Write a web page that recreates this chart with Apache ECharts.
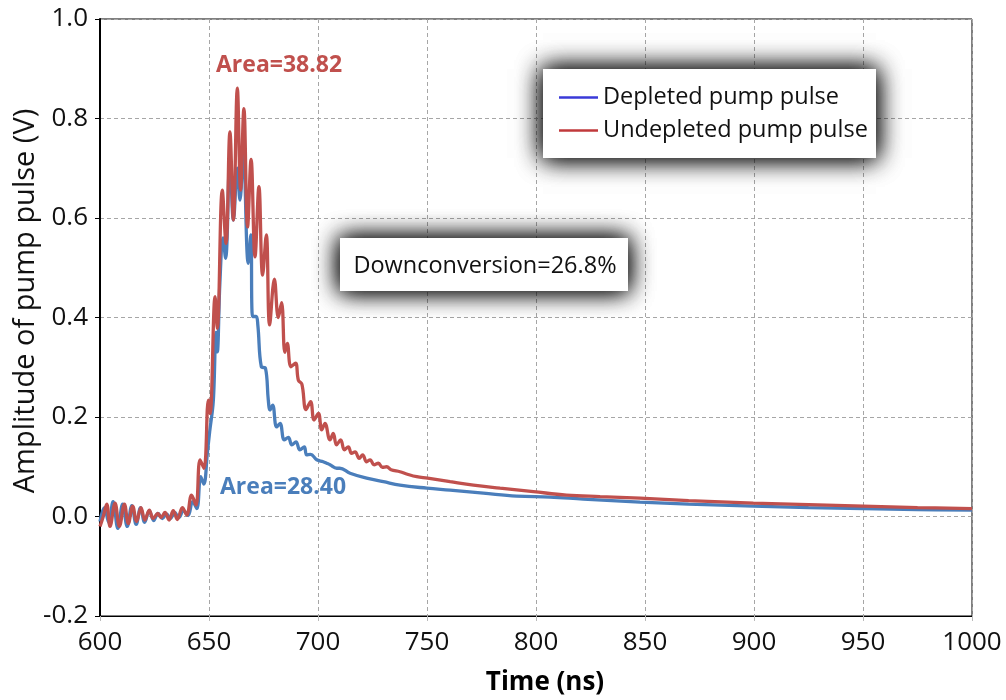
<!DOCTYPE html>
<html>
<head>
<meta charset="utf-8">
<script src="https://cdn.jsdelivr.net/npm/echarts@6/dist/echarts.min.js"></script>
<style>
  html, body { margin: 0; padding: 0; background: #ffffff; }
  #chart { width: 1006px; height: 700px; }
</style>
</head>
<body>
<div id="chart"></div>
<script>
// Pump pulse traces: [time (ns), amplitude (V)]
const depleted = [
  [600, -0.010], [602, 0.018], [604, -0.012], [606, 0.030], [608.2, -0.024],
  [610.4, 0.025], [612.5, -0.020], [614.6, 0.022], [616.6, -0.016], [618.6, 0.018],
  [620.5, -0.012], [622.6, 0.012], [624.6, -0.008], [626.6, 0.006], [628.6, -0.004],
  [630.5, 0.005], [632.3, -0.004], [634.2, 0.008], [636.2, -0.002], [638.3, 0.012],
  [640.4, 0.002], [642.5, 0.030], [644.4, 0.016], [646.2, 0.080], [647.6, 0.065],
  [649.3, 0.130], [650.3, 0.170], [652.0, 0.234], [653.2, 0.370], [653.8, 0.331],
  [655.0, 0.470], [656.4, 0.560], [657.6, 0.519], [659.6, 0.717], [661.2, 0.596],
  [663.0, 0.700], [664.2, 0.636], [665.7, 0.733], [668.0, 0.509], [669.2, 0.566],
  [670.0, 0.402], [671.6, 0.402], [672.4, 0.385], [674.0, 0.301], [675.9, 0.298],
  [677.2, 0.234], [678.0, 0.214], [679.2, 0.224], [681.0, 0.180], [682.6, 0.187],
  [684.5, 0.154], [686.4, 0.159], [688.0, 0.144], [689.9, 0.150], [691.7, 0.134],
  [693.7, 0.140], [694.8, 0.124], [696.6, 0.125], [699.4, 0.114], [702.4, 0.110],
  [704.0, 0.107], [705.5, 0.104], [708.6, 0.097], [710.0, 0.097], [714.7, 0.087],
  [722.3, 0.077], [730.0, 0.070], [737.6, 0.063], [749.9, 0.057], [760.6, 0.053],
  [775.8, 0.047], [791.1, 0.041], [806.4, 0.039], [821.7, 0.035], [847.7, 0.029],
  [870, 0.025], [899.7, 0.021], [925, 0.018], [950.1, 0.016], [975, 0.014],
  [1000, 0.013]
];

const undepleted = [
  [600, -0.020], [601.5, 0.000], [603.1, 0.025], [604.6, -0.020], [606.9, 0.027],
  [608.9, -0.020], [611.2, 0.025], [613.0, -0.014], [615.0, 0.021], [616.8, -0.010],
  [618.8, 0.018], [620.6, -0.007], [622.6, 0.013], [624.4, -0.004], [626.5, 0.006],
  [628.0, -0.002], [629.8, 0.008], [631.7, -0.007], [633.6, 0.012], [635.5, -0.006],
  [637.8, 0.018], [639.8, 0.003], [642.0, 0.043], [644.0, 0.023], [645.9, 0.114],
  [647.7, 0.097], [649.7, 0.234], [650.5, 0.207], [652.8, 0.442], [653.8, 0.378],
  [656.1, 0.656], [657.8, 0.549], [659.6, 0.773], [661.2, 0.596], [663.0, 0.861],
  [664.5, 0.656], [666.0, 0.820], [667.7, 0.582], [669.3, 0.718], [671.1, 0.522],
  [672.9, 0.663], [674.6, 0.485], [676.3, 0.566], [677.8, 0.385], [680.0, 0.477],
  [681.8, 0.400], [683.3, 0.430], [684.8, 0.330], [685.9, 0.348], [687.6, 0.301],
  [689.7, 0.308], [691.0, 0.274], [692.6, 0.266], [694.5, 0.215], [696.6, 0.231],
  [698.2, 0.194], [700.2, 0.207], [701.7, 0.174], [703.2, 0.187], [705.5, 0.154],
  [707.0, 0.167], [708.5, 0.144], [710.4, 0.154], [712.1, 0.134], [713.9, 0.140],
  [715.4, 0.127], [717.0, 0.130], [718.9, 0.117], [720.5, 0.124], [722.3, 0.110],
  [723.9, 0.114], [725.7, 0.104], [727.7, 0.107], [729.5, 0.099], [731.5, 0.100],
  [733.5, 0.094], [737.6, 0.090], [741.0, 0.085], [745.3, 0.080], [750.3, 0.077],
  [760.6, 0.070], [771.3, 0.063], [783.5, 0.057], [798.8, 0.050], [814.0, 0.043],
  [829.4, 0.040], [847.7, 0.037], [870, 0.032], [899.7, 0.027], [925, 0.024],
  [950.1, 0.021], [975, 0.018], [1000, 0.016]
];

const seriesNames = ['Depleted pump pulse', 'Undepleted pump pulse'];
const areaLabels = ['Area=28.40', 'Area=38.82'];
const conversionLabel = 'Downconversion=26.8%';
const xTitle = 'Time (ns)';
const yTitle = 'Amplitude of pump pulse (V)';

const FONT = '"Open Sans", Lato, sans-serif';
const BLUE = '#4a7ebb';
const RED = '#c0504d';

const chart = echarts.init(document.getElementById('chart'), null, { renderer: 'canvas' });

// white panel with a heavy, even dark halo (drawn twice to deepen it)
function panel(x, y, w, h) {
  const style = { fill: '#ffffff', shadowBlur: 24, shadowColor: 'rgba(0,0,0,0.9)' };
  return [
    { type: 'rect', z: 3, shape: { x, y, width: w, height: h }, style },
    { type: 'rect', z: 3, shape: { x, y, width: w, height: h }, style }
  ];
}

chart.setOption({
  backgroundColor: '#ffffff',
  animation: false,
  grid: {
    left: 100, right: 34, top: 19, bottom: 84,
    show: true, borderColor: '#000000', borderWidth: 1
  },
  xAxis: {
    type: 'value', min: 600, max: 1000, interval: 50,
    axisLine: { show: true, onZero: false, lineStyle: { color: '#000000', width: 1 } },
    axisTick: { show: true, length: 5, lineStyle: { color: '#bbbbbb' } },
    axisLabel: {
      margin: 14, color: '#111111', fontSize: 26, fontFamily: FONT,
      formatter: v => String(v)
    },
    splitLine: { show: true, lineStyle: { color: '#a6a6a6', type: [4, 3], width: 1 } }
  },
  yAxis: {
    type: 'value', min: -0.2, max: 1.0, interval: 0.2,
    axisLine: { show: true, onZero: false, lineStyle: { color: '#000000', width: 2 } },
    axisTick: { show: true, length: 5, lineStyle: { color: '#000000' } },
    axisLabel: {
      margin: 12, color: '#111111', fontSize: 26, fontFamily: FONT,
      formatter: v => v.toFixed(1)
    },
    splitLine: { show: true, lineStyle: { color: '#a6a6a6', type: [4, 3], width: 1 } }
  },
  legend: {
    left: 559, top: 81, orient: 'vertical', padding: 0, itemGap: 0,
    icon: 'rect', itemWidth: 39, itemHeight: 2.5,
    textStyle: { fontSize: 23.5, fontFamily: FONT, color: '#111111', lineHeight: 33 },
    data: [
      { name: seriesNames[0], itemStyle: { color: '#3a3ad8' } },
      { name: seriesNames[1], itemStyle: { color: '#c0393b' } }
    ]
  },
  series: [
    {
      name: seriesNames[0], type: 'line', data: depleted, symbol: 'none', smooth: 0.4,
      lineStyle: { color: BLUE, width: 3.3 }, itemStyle: { color: BLUE }, z: 2
    },
    {
      name: seriesNames[1], type: 'line', data: undepleted, symbol: 'none', smooth: 0.4,
      lineStyle: { color: RED, width: 3.3 }, itemStyle: { color: RED }, z: 3
    }
  ],
  graphic: [
    ...panel(543, 69, 333, 89),
    ...panel(340, 238, 288, 53),
    {
      type: 'text', z: 5, x: 485, y: 266,
      style: {
        text: conversionLabel, fill: '#111111', font: '23.5px ' + FONT,
        align: 'center', verticalAlign: 'middle'
      }
    },
    {
      type: 'text', z: 5, x: 216, y: 65,
      style: {
        text: areaLabels[1], fill: RED, font: 'bold 23px ' + FONT,
        align: 'left', verticalAlign: 'middle'
      }
    },
    {
      type: 'text', z: 5, x: 220, y: 487,
      style: {
        text: areaLabels[0], fill: BLUE, font: 'bold 23px ' + FONT,
        align: 'left', verticalAlign: 'middle'
      }
    },
    {
      type: 'text', z: 5, x: 545, y: 683,
      style: {
        text: xTitle, fill: '#000000', font: 'bold 26px ' + FONT,
        align: 'center', verticalAlign: 'middle'
      }
    },
    {
      type: 'text', z: 5, x: 26, y: 301, rotation: Math.PI / 2,
      style: {
        text: yTitle, fill: '#111111', font: '29px ' + FONT,
        align: 'center', verticalAlign: 'middle'
      }
    }
  ]
});
</script>
</body>
</html>
